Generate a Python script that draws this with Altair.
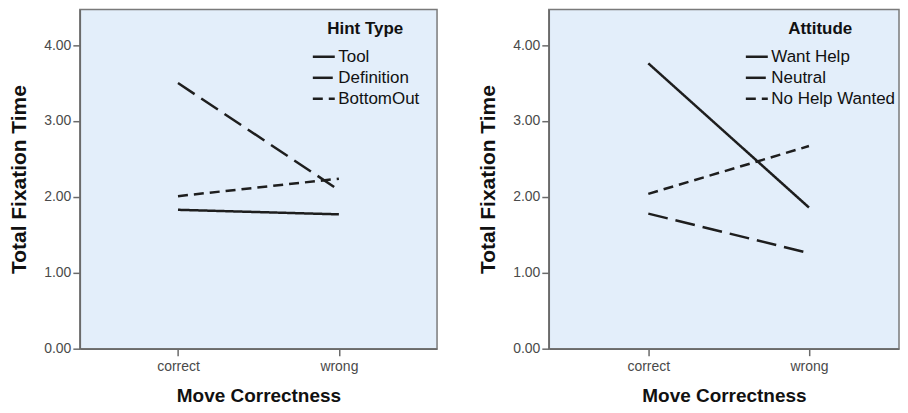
import altair as alt
import pandas as pd

moves = ["correct", "wrong"]

hint_groups = ["Tool", "Definition", "BottomOut"]
hint_tool = [1.83, 1.77]
hint_definition = [3.50, 2.09]
hint_bottomout = [2.01, 2.24]

att_groups = ["Want Help", "Neutral", "No Help Wanted"]
att_want = [3.76, 1.86]
att_neutral = [1.78, 1.26]
att_nohelp = [2.04, 2.67]

dash_range = [[1, 0], [20, 8], [10, 6]]

def make_df(groups, series):
    rows = []
    for g, vals in zip(groups, series):
        for m, v in zip(moves, vals):
            rows.append({"group": g, "move": m, "value": v})
    return pd.DataFrame(rows)

df_hint = make_df(hint_groups, [hint_tool, hint_definition, hint_bottomout])
df_att = make_df(att_groups, [att_want, att_neutral, att_nohelp])

H = 340

def panel(df, groups, title, lx, ly, w, pad, align):
    return alt.Chart(df).mark_line(color="#1e1e1e", strokeWidth=2.5).encode(
        x=alt.X("move:N", sort=moves, title="Move Correctness",
                scale=alt.Scale(type="point", padding=pad, align=align),
                axis=alt.Axis(labelAngle=0, tickSize=7, labelPadding=4,
                              titlePadding=13, grid=False)),
        y=alt.Y("value:Q", title="Total Fixation Time",
                scale=alt.Scale(domain=[0, 4.47], nice=False, zero=True),
                axis=alt.Axis(values=[0, 1, 2, 3, 4], format=".2f", tickSize=7,
                              labelPadding=2, titlePadding=14, grid=False)),
        strokeDash=alt.StrokeDash("group:N", sort=groups,
                                  scale=alt.Scale(domain=groups, range=dash_range),
                                  legend=alt.Legend(title=title, orient="none",
                                                    legendX=lx, legendY=ly)),
        detail="group:N",
    ).properties(width=w, height=H)

left = panel(df_hint, hint_groups, "Hint Type", 232, 12, 358, 0.61, 0.5)
right = panel(df_att, att_groups, "Attitude", 196, 12, 351, 0.59, 0.525)

chart = alt.hconcat(left, right, spacing=39).resolve_scale(
    strokeDash="independent"
).properties(padding={"left": 0, "top": 0, "right": 0, "bottom": 0}).configure_view(
    fill="#E3EEFA", stroke="#7a7a7a", strokeWidth=1.5
).configure_axis(
    domainColor="#6a6a6a", tickColor="#6a6a6a", domainWidth=1.5, tickWidth=1.5,
    labelFont="Liberation Sans", labelFontSize=14, labelColor="#4a4a4a",
    titleFont="Liberation Sans", titleFontSize=21, titleFontWeight="bold",
    titleColor="#111111"
).configure_axisX(titleFontSize=19).configure_legend(
    symbolType="stroke", symbolSize=484, symbolStrokeWidth=2.5,
    symbolStrokeColor="#1e1e1e", labelFont="Liberation Sans", labelFontSize=17,
    labelColor="#111111", titleFont="Liberation Sans", titleFontSize=17,
    titleFontWeight="bold", titleColor="#111111", titleAnchor="middle",
    rowPadding=0, labelOffset=2, titlePadding=6
)

chart.save("out.html", embed_options={"renderer": "svg", "actions": False})
